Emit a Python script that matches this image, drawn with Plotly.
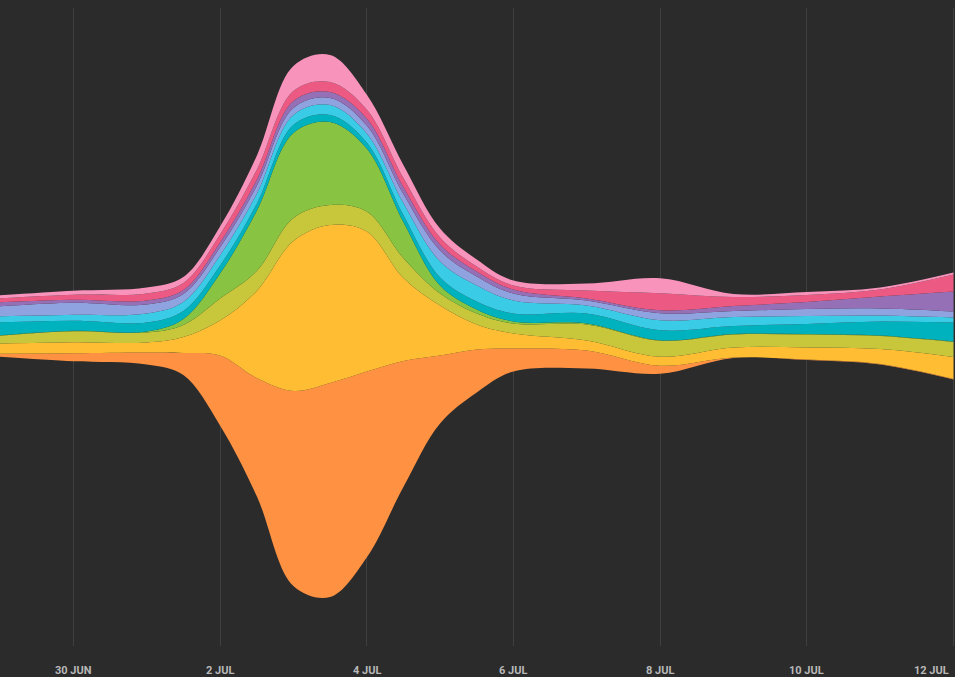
import plotly.graph_objects as go
import numpy as np

dates = ["2024-06-29", "2024-06-30", "2024-07-01", "2024-07-01 12:00", "2024-07-02",
         "2024-07-02 12:00", "2024-07-03", "2024-07-03 12:00", "2024-07-04",
         "2024-07-04 12:00", "2024-07-05", "2024-07-05 12:00", "2024-07-06",
         "2024-07-07", "2024-07-08", "2024-07-09", "2024-07-10", "2024-07-11",
         "2024-07-12"]

orange   = [3, 8, 12, 22, 70, 118, 195, 214, 186, 126, 68, 43, 23, 18, 8, 0.5, 0.5, 0.5, 0.5]
yellow   = [10, 11, 10, 16, 35, 87, 150, 158, 140, 83, 50, 25, 15, 10, 9, 10, 12, 15, 22]
olive    = [8, 11, 10, 12, 22, 20, 23, 20, 20, 20, 12, 11, 10, 16, 16, 13, 13, 13, 15]
green    = [0.3, 0.5, 1, 6, 25, 60, 85, 83, 63, 36, 8, 4, 2, 1, 0.5, 0.5, 0.5, 0.5, 0.5]
teal     = [13, 10, 9, 8, 8, 7, 8, 7, 6, 7, 8, 8, 8, 10, 10, 8, 10, 14, 19]
cyan     = [6, 6, 9, 9, 10, 10, 10, 10, 9, 12, 16, 16, 13, 8, 10, 9, 8, 6, 5]
lavender = [10, 12, 9, 8, 8, 8, 7, 7, 8, 9, 11, 9, 7, 5, 7, 6, 7, 7, 6]
purple   = [4, 3, 4, 4, 5, 6, 7, 6, 7, 7, 6, 5, 4, 2, 3, 5, 7, 12, 20]
rose     = [4, 5, 7, 7, 8, 10, 10, 10, 9, 9, 7, 5, 4, 8, 17, 9, 7, 7, 17]
pink     = [3, 4, 6, 6, 8, 14, 25, 27, 15, 13, 9, 7, 5, 7, 15, 3, 3, 2, 2]

series = [orange, yellow, olive, green, teal, cyan, lavender, purple, rose, pink]
colors = ["#FF9142", "#FFBD33", "#C8C63A", "#88C441", "#00B2BE",
          "#3ACCE6", "#8FA3E0", "#9670B6", "#EC5A84", "#F893BB"]

tick_vals = ["2024-06-30", "2024-07-02", "2024-07-04", "2024-07-06",
             "2024-07-08", "2024-07-10", "2024-07-12"]
tick_labels = ["30 JUN", "2 JUL", "4 JUL", "6 JUL", "8 JUL", "10 JUL", "12 JUL"]

# silhouette offset: stream centred on zero
data = np.array(series, dtype=float)
total = data.sum(axis=0)
base = -total / 2.0

fig = go.Figure()
fig.add_trace(go.Scatter(x=dates, y=base, mode="lines",
                         line=dict(width=0, shape="spline", smoothing=1.0),
                         hoverinfo="skip", showlegend=False))
cum = base.copy()
for vals, col in zip(data, colors):
    cum = cum + vals
    fig.add_trace(go.Scatter(x=dates, y=cum.copy(), mode="lines",
                             line=dict(width=0, shape="spline", smoothing=1.0, color=col),
                             fill="tonexty", fillcolor=col,
                             hoverinfo="skip", showlegend=False))

bg = "#2B2B2B"
fig.update_layout(
    width=955, height=677,
    margin=dict(l=0, r=0, t=8, b=31),
    paper_bgcolor=bg, plot_bgcolor=bg,
    xaxis=dict(type="date", range=["2024-06-29", "2024-07-12 00:30"],
               tickvals=tick_vals, showticklabels=False,
               showgrid=True, gridcolor="#404040", gridwidth=1,
               zeroline=False, showline=False, ticks=""),
    yaxis=dict(range=[-320, 318], visible=False, showgrid=False, zeroline=False),
)

for tv, tl in zip(tick_vals, tick_labels):
    last = tl == tick_labels[-1]
    fig.add_annotation(x=tv, y=0, xref="x", yref="paper",
                       text=tl, showarrow=False,
                       xanchor="right" if last else "center",
                       xshift=-2 if last else 0,
                       yanchor="middle", yshift=-24,
                       font=dict(family="Roboto, 'Liberation Sans', sans-serif",
                                 size=11, color="#B8B8B8", weight="bold"))

fig.write_html("out.html",
               config={"displayModeBar": False},
               post_script="document.body.style.margin='0';"
                           "document.body.style.background='#2B2B2B';")
